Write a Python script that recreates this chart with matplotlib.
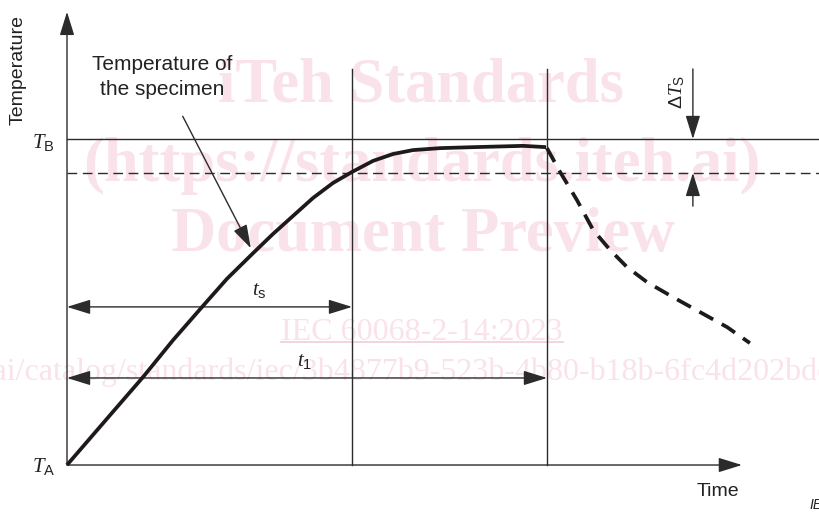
import numpy as np
import matplotlib
matplotlib.use('Agg')
import matplotlib.pyplot as plt

plt.rcParams['font.family'] = ['Liberation Sans', 'DejaVu Sans']
plt.rcParams['mathtext.fontset'] = 'custom'
plt.rcParams['mathtext.it'] = 'Liberation Serif:italic'
plt.rcParams['mathtext.rm'] = 'Liberation Sans'

# heating curve of the specimen (time in arbitrary units, temperature 0 = T_A, 100 = T_B)
heat_time = [0, 1.51, 2.67, 3.72, 4.77, 5.61, 6.53, 7.23, 7.93, 8.63, 9.33, 10.0, 10.74,
             11.44, 12.14, 13.09, 14.25, 16.0, 16.81]
heat_temp = [0, 15.3, 27.0, 38.3, 48.8, 57.1, 65.0, 70.9, 76.4, 81.9, 86.5, 89.9, 93.3,
             95.4, 96.6, 97.2, 97.5, 97.9, 97.5]
# cooling after removal (dashed)
cool_time = [16.84, 17.30, 17.89, 18.46, 19.05, 19.65, 20.35, 21.26, 22.21, 23.16, 23.96]
cool_temp = [97.2, 89.9, 81.3, 72.1, 66.0, 60.7, 56.1, 51.5, 46.9, 42.3, 37.4]

T_A = 0
T_B = 100
T_stable = 89.6          # dashed level, T_B - delta T_s
t_s = 10.0
t_1 = 16.84
t_dT = 21.96             # where delta T_s is dimensioned
t_end = 23.68            # tip of time axis
T_top = 139.0            # tip of temperature axis
v_top = 121.5            # top of the vertical marker lines
ts_arrow_T = 48.5
t1_arrow_T = 26.7

ink = '#2b2b2b'
pink = '#fae2ea'

fig = plt.figure(figsize=(8.2, 5.13), dpi=100)
ax = fig.add_axes([0, 0, 1, 1])
ax.set_xlim(-2.351, 26.42)
ax.set_ylim(-14.72, 142.64)
ax.axis('off')
ax.set_zorder(2)

# watermark (behind the drawing)
wm = dict(family='Liberation Serif', color=pink, ha='center', va='center', zorder=0)
fig.text(421 / 820, 1 - 86 / 513, 'iTeh Standards', fontsize=45, weight='bold', **wm)
fig.text(422 / 820, 1 - 166 / 513, '(https://standards.iteh.ai)', fontsize=45, weight='bold', **wm)
fig.text(423 / 820, 1 - 236 / 513, 'Document Preview', fontsize=45, weight='bold', **wm)
iec = fig.text(422 / 820, 1 - 332 / 513, 'IEC 60068-2-14:2023', fontsize=23, **wm)
fig.text(-280 / 820, 1 - 372 / 513,
         'https://standards.iteh.ai/catalog/standards/iec/3b4877b9-523b-4b80-b18b-6fc4d202bdc0/iec-60068-2-14-2023',
         fontsize=23, family='Liberation Serif', color=pink, ha='left', va='center', zorder=0)
fig.canvas.draw()
bb = iec.get_window_extent().transformed(fig.transFigure.inverted())
fig.add_artist(plt.Line2D([bb.x0, bb.x1], [bb.y0 + 0.008, bb.y0 + 0.008], color='#f2cdd8', lw=1.2, zorder=0))

thin = dict(color=ink, lw=1.0)

# axes with arrows
head = dict(arrowstyle='-|>,head_length=1.45,head_width=0.45', mutation_scale=10,
            color=ink, lw=1.0, shrinkA=0, shrinkB=0)
ax.annotate('', xy=(0, T_top), xytext=(0, T_A), arrowprops=head)
ax.annotate('', xy=(t_end, T_A), xytext=(0, T_A), arrowprops=head)

# reference levels
ax.plot([0, 26.42], [T_B, T_B], **thin)
ax.plot([0, 26.42], [T_stable, T_stable], color=ink, lw=1.0, dashes=(7, 4))

# vertical markers at t_s and t_1
ax.plot([t_s, t_s], [T_A, v_top], **thin)
ax.plot([t_1, t_1], [T_A, v_top], **thin)

# delta T_s dimension
ax.annotate('', xy=(t_dT, T_B), xytext=(t_dT, v_top), arrowprops=head)
ax.annotate('', xy=(t_dT, T_stable), xytext=(t_dT, 79.4), arrowprops=head)

# time dimensions
dbl = dict(arrowstyle='<|-|>,head_length=1.45,head_width=0.45', mutation_scale=10,
           color=ink, lw=1.0, shrinkA=0, shrinkB=0)
ax.annotate('', xy=(t_s, ts_arrow_T), xytext=(0, ts_arrow_T), arrowprops=dbl)
ax.annotate('', xy=(t_1, t1_arrow_T), xytext=(0, t1_arrow_T), arrowprops=dbl)

# specimen temperature
ax.plot(heat_time, heat_temp, color='#1e1a1b', lw=2.7, solid_capstyle='butt', solid_joinstyle='round', zorder=3)
ax.plot(cool_time, cool_temp, color='#1e1a1b', lw=2.7, dashes=(4.2, 2.6), zorder=3)

# labels
ax.annotate('Temperature of\nthe specimen', xy=(6.45, 66.5), xytext=(3.35, 119.0),
            ha='center', va='center', fontsize=15, color='#222222', linespacing=1.35,
            arrowprops=dict(arrowstyle='-|>,head_length=1.45,head_width=0.45', mutation_scale=10,
                            color=ink, lw=1.0, shrinkA=12, shrinkB=0))
ax.text(-1.72, 121.2, 'Temperature', rotation=90, ha='center', va='center', fontsize=14, color='#222222')
ax.text(-0.42, 99.0, r'$T_\mathrm{B}$', ha='right', va='center', fontsize=15, color='#222222')
ax.text(-0.42, -0.5, r'$T_\mathrm{A}$', ha='right', va='center', fontsize=15, color='#222222')
ax.text(6.75, 53.5, r'$t_\mathrm{s}$', ha='center', va='center', fontsize=15, color='#222222')
ax.text(8.35, 31.6, r'$t_1$', ha='center', va='center', fontsize=15, color='#222222')
ax.text(21.4, 114.5, r'$\Delta T_\mathrm{S}$', rotation=90, ha='center', va='center', fontsize=14, color='#222222')
ax.text(22.84, -8.0, 'Time', ha='center', va='center', fontsize=14, color='#222222')
ax.text(26.05, -12.4, 'IEC', ha='left', va='center', fontsize=10, style='italic', color='#222222')

fig.savefig('out.png', dpi=100)
